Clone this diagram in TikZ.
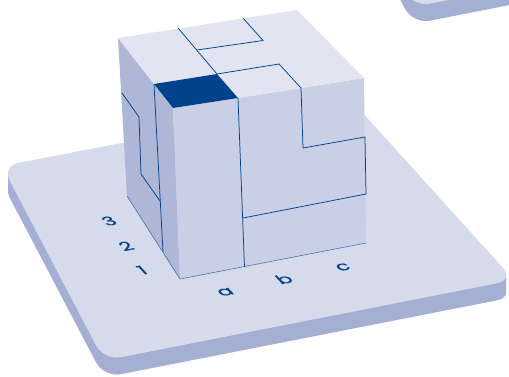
\documentclass[tikz,border=0pt]{standalone}
\usepackage{fontspec}
\setmainfont{Poppins}
\newfontfamily\labfont{Poppins}[FakeBold=0.5]
\definecolor{boardtop}{HTML}{D6DBEB}
\definecolor{boardside}{HTML}{A5AED3}
\definecolor{cubetop}{HTML}{E2E5F1}
\definecolor{cubefront}{HTML}{C9CFE4}
\definecolor{cubeleft}{HTML}{AEB7D6}
\definecolor{ink}{HTML}{00428C}
\tikzset{
  edge/.style={draw=ink,line width=0.75pt,line join=miter},
  thinedge/.style={draw=ink!75!cubefront,line width=0.5pt},
  label/.style={text=ink,font=\labfont\fontsize{14}{14}\selectfont,inner sep=0pt,transform shape}
}
\newcommand{\boardshape}{(2,166) -- (350,99) -- (514,280) -- (104,360.5) -- cycle}
\begin{document}
\begin{tikzpicture}[x=1pt,y=-1pt]
\useasboundingbox (0,0) rectangle (509,376);
% main board
\foreach \d in {1,...,17}
  \fill[boardside,rounded corners=17pt,yshift=-\d pt] \boardshape;
\fill[boardtop,rounded corners=17pt] \boardshape;
% board at the upper right
\begin{scope}
  \clip (0,0) rectangle (509,376);
  \begin{scope}[xshift=309pt,yshift=353.5pt]
    \foreach \d in {1,...,17}
      \fill[boardside,rounded corners=17pt,yshift=-\d pt] \boardshape;
    \fill[boardtop,rounded corners=17pt] \boardshape;
  \end{scope}
\end{scope}
% cube faces
\fill[cubeleft] (118,38) -- (154,84) -- (173,108) -- (180,279) -- (127,196) -- cycle;
\fill[cubefront] (173,108) -- (238,98) -- (364,78) -- (366,243) -- (180,279) -- cycle;
\fill[cubetop] (118,38) -- (297,10) -- (364,78) -- (238,98) -- (173,108) -- cycle;
\fill[ink] (154,84) -- (217,74) -- (238,98) -- (173,108) -- cycle;
% outline of the pieces
\draw[thinedge] (127,196) -- (180,279) -- (366,243);
\draw[edge] (154,84) -- (163,252);
\draw[edge] (238,98) -- (244.5,267);
\draw[edge] (178,28) -- (217,74) -- (279,64) -- (301,88) -- (303,148) -- (365,137) -- (366,194) -- (243,218);
\draw[edge] (197,50) -- (263,40.5) -- (243,18);
\draw[edge] (122,93) -- (139,117) -- (141,174) -- (160,201);
% labels
\node[label,cm={1.45,0.28,-0.75,0.8,(225.5,292)}] (la) at (0,0) {a};
\node[label,cm={1.45,0.28,-0.75,0.8,(284,279)}] (lb) at (0,0) {b};
\node[label,cm={1.45,0.28,-0.75,0.8,(343,267)}] (lc) at (0,0) {c};
\node[label,cm={1.45,0.28,-0.75,0.8,(142,270)}] (l1) at (0,0) {1};
\node[label,cm={1.45,0.28,-0.75,0.8,(126,246)}] (l2) at (0,0) {2};
\node[label,cm={1.45,0.28,-0.75,0.8,(109,221)}] (l3) at (0,0) {3};
\end{tikzpicture}
\end{document}
